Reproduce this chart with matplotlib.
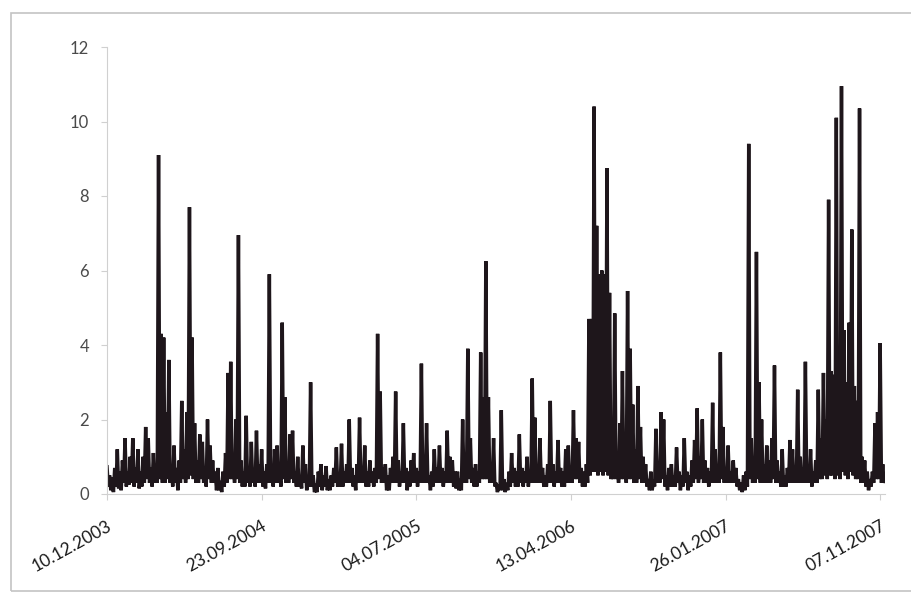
import numpy as np
import matplotlib
matplotlib.use("Agg")
import matplotlib.pyplot as plt
from matplotlib.patches import Rectangle

# --- chart colours / fonts ---
LINE_COLOR = "#1e161b"
FRAME_COLOR = "#c4c4c4"
AXIS_COLOR = "#d0d0d0"
YTEXT = "#4a4a4a"
XTEXT = "#1a1a1a"

plt.rcParams["font.family"] = ["Lato", "DejaVu Sans"]

# --- data ---
# local highs (one every ~4.7 days) and the dips between them
peaks = [
    0.73, 0.5, 0.45, 0.7, 1.2, 0.6, 0.9, 1.5, 0.6, 1.0, 1.5, 0.7, 1.2, 0.6, 1.0, 1.8, 1.5, 0.7, 1.1, 0.8,
    9.1, 4.3, 4.2, 2.2, 3.6, 0.8, 1.3, 0.7, 0.9, 2.5, 1.2, 2.2, 7.7, 4.2, 1.9, 0.9, 1.6, 1.4, 0.7, 2.0,
    1.3, 0.9, 0.6, 0.7, 0.35, 0.6, 1.1, 3.25, 3.55, 1.0, 2.0, 6.95, 0.9, 0.6, 2.1, 0.7, 1.4, 0.6, 1.7, 0.8,
    1.2, 0.6, 0.8, 5.9, 0.7, 1.2, 1.3, 0.6, 4.6, 2.6, 0.7, 1.6, 1.7, 0.6, 1.0, 0.5, 1.3, 0.8, 0.5, 3.0,
    0.5, 0.15, 0.6, 0.8, 0.5, 0.75, 0.4, 0.5, 0.7, 1.25, 0.5, 1.35, 0.6, 0.8, 2.0, 0.7, 0.5, 0.8, 2.05, 0.7,
    1.3, 0.6, 0.9, 0.6, 0.7, 4.3, 2.75, 0.7, 0.8, 0.5, 0.7, 1.0, 2.75, 0.9, 0.6, 1.9, 0.7, 0.6, 0.9, 1.1,
    0.7, 0.6, 3.5, 0.8, 1.9, 0.5, 0.6, 1.2, 0.7, 1.3, 0.7, 0.6, 1.7, 1.0, 0.9, 0.6, 0.6, 0.4, 2.0, 0.9,
    3.9, 1.5, 0.7, 0.8, 0.6, 3.8, 2.6, 6.25, 2.6, 0.8, 1.5, 0.3, 0.25, 2.25, 0.4, 0.3, 0.6, 1.1, 0.7, 0.6,
    1.6, 0.7, 0.6, 1.0, 0.6, 3.1, 2.05, 0.8, 1.5, 0.7, 0.5, 0.8, 2.5, 0.8, 0.6, 1.45, 0.7, 0.6, 1.2, 1.3,
    0.7, 2.25, 1.5, 1.4, 0.7, 0.6, 0.8, 4.7, 4.7, 10.4, 7.2, 5.9, 6.0, 5.9, 8.75, 5.4, 0.8, 4.85, 1.0, 1.9,
    3.3, 1.5, 5.45, 3.9, 2.4, 1.2, 2.9, 1.8, 1.0, 0.8, 0.4, 0.6, 0.3, 1.75, 0.7, 2.2, 2.0, 0.5, 0.7, 0.8,
    0.5, 1.25, 0.6, 0.5, 1.5, 0.6, 0.5, 0.9, 1.45, 2.3, 1.0, 2.0, 0.9, 0.7, 0.6, 2.45, 1.2, 0.7, 3.8, 1.8,
    0.7, 1.3, 0.6, 0.9, 0.7, 0.4, 0.3, 0.5, 0.6, 9.4, 1.5, 0.9, 6.5, 3.0, 2.0, 0.8, 1.3, 0.9, 1.5, 3.45,
    0.9, 0.6, 1.2, 0.5, 0.7, 1.45, 1.2, 0.7, 2.8, 1.0, 0.7, 3.55, 0.8, 1.2, 0.6, 0.9, 2.8, 1.5, 3.25, 2.0,
    7.9, 3.3, 3.2, 10.1, 3.0, 10.95, 4.4, 3.0, 4.6, 7.1, 2.9, 2.5, 10.35, 1.0, 0.9, 0.6, 0.4, 0.6, 1.9, 2.2,
    4.05, 0.8, 0.4,
]
troughs = [
    0.2, 0.1, 0.05, 0.2, 0.15, 0.1, 0.3, 0.2, 0.25, 0.3, 0.2, 0.3, 0.15, 0.2, 0.3, 0.4, 0.3, 0.2, 0.3, 0.3,
    0.4, 0.3, 0.3, 0.4, 0.3, 0.2, 0.3, 0.1, 0.3, 0.4, 0.3, 0.4, 0.5, 0.4, 0.3, 0.3, 0.4, 0.3, 0.2, 0.4,
    0.3, 0.3, 0.1, 0.1, 0.05, 0.2, 0.3, 0.4, 0.4, 0.3, 0.4, 0.3, 0.2, 0.2, 0.3, 0.2, 0.3, 0.2, 0.3, 0.3,
    0.2, 0.15, 0.3, 0.3, 0.2, 0.3, 0.3, 0.2, 0.4, 0.3, 0.3, 0.4, 0.3, 0.2, 0.2, 0.15, 0.3, 0.1, 0.2, 0.2,
    0.05, 0.05, 0.2, 0.1, 0.2, 0.1, 0.1, 0.2, 0.3, 0.2, 0.2, 0.2, 0.3, 0.3, 0.3, 0.2, 0.1, 0.3, 0.3, 0.3,
    0.2, 0.2, 0.3, 0.2, 0.3, 0.4, 0.3, 0.3, 0.1, 0.1, 0.3, 0.3, 0.3, 0.2, 0.3, 0.3, 0.1, 0.2, 0.3, 0.3,
    0.2, 0.3, 0.3, 0.3, 0.3, 0.1, 0.2, 0.3, 0.3, 0.3, 0.2, 0.3, 0.3, 0.3, 0.2, 0.15, 0.1, 0.1, 0.3, 0.3,
    0.4, 0.3, 0.2, 0.2, 0.3, 0.4, 0.4, 0.4, 0.3, 0.3, 0.2, 0.05, 0.1, 0.1, 0.05, 0.1, 0.2, 0.3, 0.2, 0.2,
    0.3, 0.2, 0.3, 0.2, 0.3, 0.3, 0.3, 0.3, 0.3, 0.2, 0.2, 0.3, 0.3, 0.2, 0.3, 0.3, 0.2, 0.2, 0.3, 0.3,
    0.3, 0.4, 0.4, 0.3, 0.2, 0.2, 0.3, 0.5, 0.6, 0.6, 0.5, 0.6, 0.5, 0.6, 0.5, 0.4, 0.4, 0.4, 0.3, 0.4,
    0.4, 0.3, 0.4, 0.4, 0.3, 0.3, 0.4, 0.3, 0.3, 0.2, 0.1, 0.1, 0.2, 0.3, 0.3, 0.4, 0.2, 0.1, 0.2, 0.2,
    0.2, 0.3, 0.1, 0.2, 0.3, 0.1, 0.2, 0.3, 0.4, 0.3, 0.4, 0.3, 0.3, 0.2, 0.3, 0.3, 0.3, 0.3, 0.4, 0.3,
    0.3, 0.3, 0.3, 0.3, 0.2, 0.1, 0.05, 0.1, 0.2, 0.4, 0.3, 0.3, 0.4, 0.3, 0.3, 0.3, 0.3, 0.3, 0.4, 0.3,
    0.3, 0.2, 0.2, 0.2, 0.3, 0.3, 0.3, 0.3, 0.3, 0.3, 0.3, 0.3, 0.3, 0.2, 0.3, 0.3, 0.4, 0.4, 0.5, 0.4,
    0.5, 0.5, 0.4, 0.5, 0.4, 0.6, 0.5, 0.4, 0.6, 0.5, 0.4, 0.4, 0.3, 0.3, 0.2, 0.1, 0.2, 0.3, 0.4, 0.4,
    0.3, 0.3,
]
date_labels = ["10.12.2003", "23.09.2004", "04.07.2005", "13.04.2006", "26.01.2007", "07.11.2007"]
label_step = 120   # points between date labels
y_ticks = [0, 2, 4, 6, 8, 10, 12]

# interleave highs and dips into one series
series = np.empty(len(peaks) + len(troughs))
series[0::2] = peaks
series[1::2] = troughs
x = np.arange(len(series))

# --- figure ---
fig = plt.figure(figsize=(9.11, 5.93), dpi=100)
fig.patch.set_facecolor("white")

# outer chart frame (Excel chart area border)
fig.patches.append(Rectangle((11 / 911, 2 / 593), 1.0, 578 / 593, transform=fig.transFigure,
                             fill=False, edgecolor=FRAME_COLOR, linewidth=1.2))

ax = fig.add_axes([107 / 911, 99 / 593, 778.3 / 911, 447 / 593])
ax.plot(x, series, color=LINE_COLOR, linewidth=2.5, solid_joinstyle="miter", antialiased=True)

ax.set_xlim(0, len(series) - 1)
ax.set_ylim(0, 12)

ax.set_yticks(y_ticks)
ax.set_yticklabels([str(v) for v in y_ticks], color=YTEXT, fontsize=12)
ax.set_xticks(np.arange(len(date_labels)) * label_step)
ax.set_xticklabels(date_labels, rotation=29, ha="right", va="top",
                   rotation_mode="anchor", color=XTEXT, fontsize=12.5)

for side in ["top", "right"]:
    ax.spines[side].set_visible(False)
ax.spines["left"].set_color(AXIS_COLOR)
ax.spines["bottom"].set_color(AXIS_COLOR)
ax.tick_params(axis="y", length=4, color=AXIS_COLOR, pad=9)
ax.tick_params(axis="x", length=4, color=AXIS_COLOR, pad=13)

fig.savefig("out.png", dpi=100)
